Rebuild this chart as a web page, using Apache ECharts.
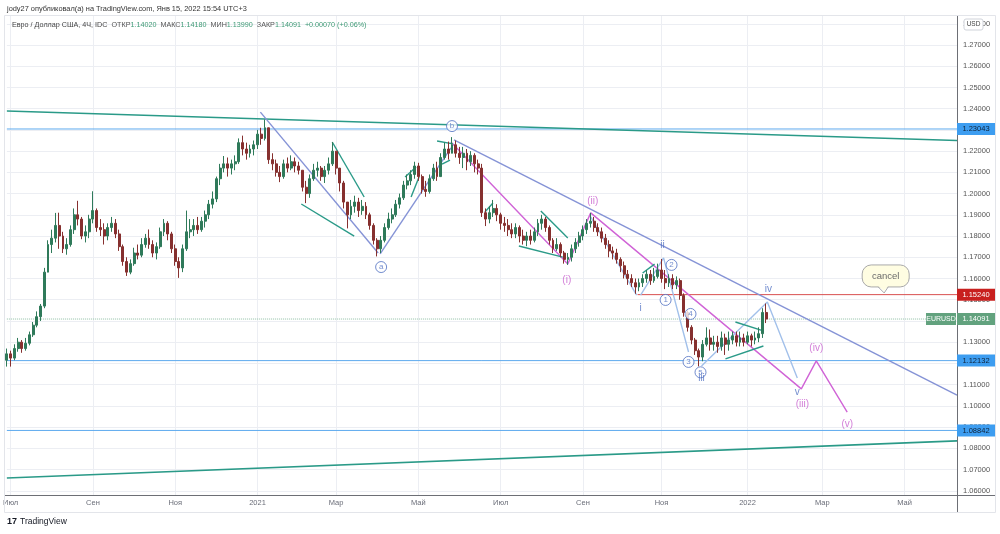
<!DOCTYPE html>
<html><head><meta charset="utf-8">
<script src="https://cdn.jsdelivr.net/npm/echarts@6/dist/echarts.min.js"></script>
<style>html,body{margin:0;padding:0;background:#fff;}#c{width:1000px;height:534px;}</style>
</head><body><div id="c"></div>
<script>
// ---------------- DATA ----------------
const firstOpen = 1.1215;
const closes = [
1.1245,1.1225,1.1270,1.1300,1.1270,1.1295,1.1335,1.1380,1.1420,1.1470,
1.1630,1.1760,1.1790,1.1850,1.1800,1.1740,1.1760,1.1830,1.1900,1.1880,
1.1800,1.1820,1.1880,1.1920,1.1840,1.1830,1.1800,1.1840,1.1860,1.1810,
1.1750,1.1680,1.1630,1.1670,1.1720,1.1710,1.1760,1.1790,1.1760,1.1720,
1.1750,1.1820,1.1860,1.1810,1.1740,1.1680,1.1650,1.1740,1.1820,1.1830,
1.1850,1.1830,1.1870,1.1900,1.1950,1.1975,1.2070,1.2120,1.2140,1.2120,
1.2140,1.2150,1.2240,1.2210,1.2190,1.2210,1.2230,1.2280,1.2260,1.2310,
1.2160,1.2140,1.2100,1.2080,1.2140,1.2120,1.2150,1.2130,1.2110,1.2030,
1.2000,1.2070,1.2110,1.2120,1.2080,1.2110,1.2140,1.2200,1.2120,1.2050,
1.1960,1.1900,1.1940,1.1960,1.1920,1.1940,1.1900,1.1850,1.1780,1.1740,
1.1780,1.1840,1.1880,1.1900,1.1950,1.1980,1.2040,1.2060,1.2090,1.2130,
1.2080,1.2020,1.2010,1.2070,1.2120,1.2080,1.2170,1.2210,1.2190,1.2230,
1.2190,1.2170,1.2190,1.2150,1.2180,1.2140,1.2120,1.1910,1.1880,1.1910,
1.1930,1.1900,1.1860,1.1850,1.1830,1.1810,1.1840,1.1800,1.1780,1.1800,
1.1780,1.1820,1.1860,1.1880,1.1840,1.1780,1.1740,1.1760,1.1720,1.1690,
1.1700,1.1740,1.1770,1.1800,1.1830,1.1860,1.1870,1.1840,1.1820,1.1790,
1.1760,1.1730,1.1720,1.1690,1.1660,1.1620,1.1600,1.1580,1.1560,1.1580,
1.1600,1.1620,1.1590,1.1610,1.1640,1.1600,1.1580,1.1600,1.1570,1.1590,
1.1520,1.1440,1.1370,1.1310,1.1260,1.1230,1.1290,1.1320,1.1290,1.1300,
1.1280,1.1320,1.1290,1.1310,1.1330,1.1300,1.1320,1.1300,1.1330,1.1310,
1.1320,1.1340,1.1440,1.1409];
const highs = [
1.1270,1.1260,1.1290,1.1320,1.1310,1.1320,1.1350,1.1395,1.1445,1.1480,
1.1650,1.1780,1.1830,1.1909,1.1910,1.1820,1.1790,1.1850,1.1930,1.1966,
1.1890,1.1850,1.1900,1.2011,1.1930,1.1880,1.1860,1.1860,1.1890,1.1880,
1.1830,1.1760,1.1700,1.1690,1.1745,1.1760,1.1790,1.1810,1.1831,1.1780,
1.1770,1.1840,1.1880,1.1870,1.1820,1.1760,1.1700,1.1760,1.1920,1.1880,
1.1880,1.1890,1.1890,1.1920,1.1970,1.2010,1.2080,1.2140,1.2177,1.2170,
1.2160,1.2180,1.2260,1.2273,1.2240,1.2230,1.2250,1.2300,1.2310,1.2349,
1.2310,1.2190,1.2160,1.2130,1.2160,1.2170,1.2180,1.2170,1.2150,1.2110,
1.2060,1.2090,1.2140,1.2150,1.2130,1.2130,1.2170,1.2243,1.2200,1.2120,
1.2060,1.1960,1.1970,1.1990,1.1980,1.1970,1.1960,1.1910,1.1860,1.1790,
1.1800,1.1860,1.1910,1.1930,1.1970,1.2000,1.2060,1.2090,1.2110,1.2150,
1.2145,1.2090,1.2060,1.2090,1.2140,1.2150,1.2190,1.2240,1.2245,1.2266,
1.2250,1.2220,1.2220,1.2210,1.2200,1.2190,1.2160,1.2140,1.1930,1.1940,
1.1970,1.1950,1.1910,1.1890,1.1880,1.1860,1.1860,1.1850,1.1830,1.1820,
1.1830,1.1840,1.1880,1.1900,1.1890,1.1850,1.1790,1.1790,1.1770,1.1730,
1.1720,1.1760,1.1790,1.1820,1.1850,1.1880,1.1909,1.1890,1.1860,1.1840,
1.1810,1.1780,1.1750,1.1740,1.1700,1.1680,1.1640,1.1620,1.1600,1.1600,
1.1620,1.1640,1.1640,1.1650,1.1670,1.1692,1.1640,1.1620,1.1620,1.1610,
1.1600,1.1530,1.1450,1.1380,1.1320,1.1270,1.1310,1.1370,1.1360,1.1330,
1.1330,1.1350,1.1340,1.1350,1.1350,1.1350,1.1350,1.1340,1.1350,1.1340,
1.1350,1.1370,1.1460,1.1482];
const lows = [
1.1185,1.1185,1.1215,1.1255,1.1250,1.1260,1.1285,1.1325,1.1370,1.1400,
1.1460,1.1640,1.1720,1.1770,1.1740,1.1720,1.1712,1.1750,1.1810,1.1850,
1.1785,1.1770,1.1790,1.1860,1.1820,1.1800,1.1760,1.1780,1.1820,1.1790,
1.1730,1.1660,1.1612,1.1620,1.1660,1.1690,1.1700,1.1745,1.1740,1.1700,
1.1690,1.1740,1.1800,1.1780,1.1720,1.1660,1.1603,1.1630,1.1730,1.1790,
1.1800,1.1810,1.1820,1.1840,1.1880,1.1930,1.1960,1.2040,1.2100,1.2080,
1.2090,1.2110,1.2140,1.2180,1.2160,1.2170,1.2180,1.2210,1.2230,1.2250,
1.2140,1.2110,1.2080,1.2054,1.2070,1.2100,1.2110,1.2100,1.2090,1.2010,
1.1955,1.1980,1.2060,1.2080,1.2060,1.2050,1.2090,1.2130,1.2090,1.2010,
1.1930,1.1836,1.1880,1.1910,1.1890,1.1900,1.1880,1.1830,1.1760,1.1704,
1.1720,1.1770,1.1830,1.1860,1.1890,1.1930,1.1970,1.2020,1.2040,1.2070,
1.2060,1.2000,1.1985,1.2000,1.2060,1.2060,1.2080,1.2160,1.2160,1.2190,
1.2170,1.2140,1.2120,1.2110,1.2130,1.2100,1.2090,1.1890,1.1847,1.1860,
1.1890,1.1870,1.1830,1.1820,1.1800,1.1790,1.1790,1.1770,1.1760,1.1752,
1.1760,1.1770,1.1800,1.1830,1.1820,1.1760,1.1720,1.1730,1.1700,1.1670,
1.1664,1.1680,1.1720,1.1750,1.1780,1.1810,1.1840,1.1820,1.1800,1.1770,
1.1740,1.1700,1.1690,1.1670,1.1630,1.1600,1.1570,1.1560,1.1528,1.1540,
1.1560,1.1580,1.1570,1.1580,1.1600,1.1580,1.1550,1.1560,1.1550,1.1550,
1.1500,1.1420,1.1350,1.1290,1.1240,1.1186,1.1210,1.1280,1.1260,1.1260,
1.1250,1.1260,1.1240,1.1260,1.1290,1.1280,1.1280,1.1280,1.1290,1.1280,
1.1290,1.1300,1.1320,1.1390];

const priceTicks = [1.06,1.07,1.08,1.09,1.10,1.11,1.12,1.13,1.14,1.15,1.16,1.17,1.18,1.19,1.20,1.21,1.22,1.23,1.24,1.25,1.26,1.27,1.28];
const monthNames = ['Янв','Фев','Мар','Апр','Май','Июн','Июл','Авг','Сен','Окт','Ноя','Дек'];
const firstDay = '2020-06-26';  // first bar, each bar = 2 trading days
const barCount = 255;

// horizontal levels
const blueLevels = [1.23043, 1.12132, 1.08842];
const redLevel = 1.15240;
const redStartBar = 168.6;
const lastPrice = 1.14091;

// drawn lines: [barIndex, price]
const trendTop = [[0,1.2389],[254,1.2250]];
const trendBottom = [[0,1.0660],[254,1.0835]];
const waveA = [[67.77,1.2384],[99.25,1.1720]];
const waveAB = [[99.79,1.1716],[118.73,1.2215]];
const longDown = [[119.53,1.2253],[254,1.1051]];
const magentaPath = [[118.73,1.2243],[149.95,1.1668],[156.08,1.1909],[212.38,1.1080],[216.38,1.1212],[224.65,1.0971]];
const lightBlue1 = [[156.08,1.1890],[168.36,1.1522]];
const lightBlue2 = [[169.42,1.1522],[175.56,1.1697],[182.23,1.1254]];
const lightBlue3 = [[185.7,1.1188],[203.3,1.1489],[211.31,1.1131]];
const tealSegs = [
 [[78.71,1.1951],[92.85,1.1800]],
 [[86.98,1.2243],[95.52,1.1984]],
 [[106.46,1.2078],[109.39,1.2125]],
 [[108.06,1.1984],[110.19,1.2078]],
 [[115.0,1.2248],[119.26,1.2234]],
 [[116.33,1.2139],[118.46,1.2158]],
 [[127.8,1.1913],[129.94,1.1956]],
 [[142.74,1.1918],[149.95,1.1791]],
 [[136.87,1.1753],[148.61,1.1701]],
 [[169.96,1.1626],[173.16,1.1668]],
 [[194.77,1.1395],[202.24,1.1353]],
 [[192.10,1.1221],[202.24,1.1282]]
];
const magentaLabels = [[149.68,1.1593,'(i)'],[156.62,1.1965,'(ii)'],[212.65,1.1009,'(iii)'],[216.38,1.1273,'(iv)'],[224.65,1.0915,'(v)']];
const blueLabels = [[169.42,1.1461,'i'],[175.29,1.1758,'ii'],[185.7,1.1128,'iii'],[203.57,1.1551,'iv'],[211.31,1.1066,'v']];
const circledLabels = [[100.05,1.1654,'a'],[119.0,1.2318,'b'],[176.1,1.1499,'1'],[177.69,1.1664,'2'],[182.23,1.1207,'3'],[182.76,1.1433,'4'],[185.43,1.1158,'5']];
const cancelNote = [234.8, 1.1612, 'cancel'];

// ---------------- BUILD ----------------
const categories = [];
const labelText = {};
(function(){
  let d = new Date(firstDay + 'T00:00:00Z');
  let prevMonth = d.getUTCMonth();
  for (let i = 0; i < barCount; i++) {
    const days = [];
    while (days.length < 2) {
      const wd = d.getUTCDay();
      if (wd !== 0 && wd !== 6) days.push(new Date(d.getTime()));
      d.setUTCDate(d.getUTCDate() + 1);
    }
    categories.push(days[0].toISOString().slice(0,10));
    for (const dd of days) {
      const m = dd.getUTCMonth();
      if (m !== prevMonth) {
        prevMonth = m;
        if (m % 2 === 0) labelText[i] = (m === 0) ? String(dd.getUTCFullYear()) : monthNames[m];
      }
    }
  }
})();
const showCat = (i) => labelText[i] !== undefined;

const candleData = closes.map((c, i) => {
  const o = i === 0 ? firstOpen : closes[i-1];
  return [o, c, lows[i], highs[i]];
});

const FONT = 'Liberation Sans, Arial, sans-serif';
const C = {
  up: '#2f7a5a', down: '#86302f', teal: '#2a9a88', lav: '#8593d6', mag: '#d064d6',
  lblue: '#a2c0ea', hblue: '#5eaaee', red: '#d84f4f', green: '#62a27e', waveBlue: '#4f6fc2'
};

function seg(pts, color, width, type, z) {
  return { type: 'line', xAxisIndex: 1, yAxisIndex: 0, data: pts, symbol: 'none', showSymbol: false,
    silent: true, animation: false, lineStyle: { color: color, width: width, type: type || 'solid' }, z: z || 3 };
}

const series = [];
series.push({
  type: 'candlestick', xAxisIndex: 0, yAxisIndex: 0, data: candleData, barWidth: 2.4, animation: false,
  itemStyle: { color: C.up, color0: C.down, borderColor: C.up, borderColor0: C.down, borderWidth: 1 }, z: 4
});
blueLevels.forEach(v => series.push(seg([[0, v], [254, v]], C.hblue, 1, 'solid', 2)));
series.push(seg([[redStartBar, redLevel], [254, redLevel]], C.red, 1, 'solid', 2));
series.push(seg([[0, lastPrice], [254, lastPrice]], '#8fbfa4', 1, 'dotted', 2));
series.push(seg(trendTop, C.teal, 1.6));
series.push(seg(trendBottom, C.teal, 1.6));
series.push(seg(waveA, C.lav, 1.4));
series.push(seg(waveAB, C.lav, 1.4));
series.push(seg(longDown, C.lav, 1.4));
series.push(seg(magentaPath, C.mag, 1.4));
series.push(seg(lightBlue1, C.lblue, 1.4));
series.push(seg(lightBlue2, C.lblue, 1.4));
series.push(seg(lightBlue3, C.lblue, 1.4));
tealSegs.forEach(s => series.push(seg(s, C.teal, 1.4)));

series.push({
  type: 'scatter', xAxisIndex: 1, yAxisIndex: 0, symbolSize: 0, silent: true, animation: false, z: 6,
  data: magentaLabels.map(d => ({ value: [d[0], d[1]], name: d[2] })),
  label: { show: true, position: 'inside', formatter: p => p.name, color: '#c75ccd', fontSize: 10, fontFamily: FONT }
});
series.push({
  type: 'scatter', xAxisIndex: 1, yAxisIndex: 0, symbolSize: 0, silent: true, animation: false, z: 8,
  data: blueLabels.map(d => ({ value: [d[0], d[1]], name: d[2] })),
  label: { show: true, position: 'inside', formatter: p => p.name, color: C.waveBlue, fontSize: 10, fontFamily: FONT }
});
series.push({
  type: 'scatter', xAxisIndex: 1, yAxisIndex: 0, symbol: 'circle', symbolSize: 11, silent: true, animation: false, z: 7,
  itemStyle: { color: '#ffffff', borderColor: C.waveBlue, borderWidth: 1 },
  data: circledLabels.map(d => ({ value: [d[0], d[1]], name: d[2] })),
  label: { show: true, position: 'inside', formatter: p => p.name, color: C.waveBlue, fontSize: 8, fontFamily: FONT }
});

const chart = echarts.init(document.getElementById('c'), null, { renderer: 'canvas' });
chart.setOption({
  animation: false,
  backgroundColor: '#ffffff',
  grid: { left: 5, right: 43, top: 16, bottom: 39, containLabel: false },
  xAxis: [{
    type: 'category', data: categories, boundaryGap: false,
    axisLine: { show: false }, axisTick: { show: false },
    axisLabel: { interval: (i) => showCat(i), formatter: (v, i) => labelText[i] || '', color: '#6a6d78', fontSize: 7.5,
      fontFamily: FONT, margin: 4 },
    splitLine: { show: true, interval: (i) => showCat(i), lineStyle: { color: '#eceef3', width: 1 } }
  }, {
    type: 'value', min: 0, max: 254, show: false
  }],
  yAxis: [{
    type: 'value', position: 'right', min: 1.05801, max: 1.28366, scale: true,
    axisLine: { show: false },
    axisTick: { show: false, customValues: priceTicks },
    axisLabel: { customValues: priceTicks, formatter: v => v.toFixed(5), color: '#555', fontSize: 7.5, fontFamily: FONT, margin: 6 },
    splitLine: { show: true, lineStyle: { color: '#eceef3', width: 1 } }
  }],
  series: series
});

// ---------------- OVERLAY (axis price tags, header, frame) ----------------
const yPix = v => chart.convertToPixel({ yAxisIndex: 0 }, v);
const ptPix = (x, y) => chart.convertToPixel({ xAxisIndex: 1, yAxisIndex: 0 }, [x, y]);
const g = [];
function tag(v, bg, fg) {
  const y = yPix(v);
  g.push({ type: 'rect', z: 100, shape: { x: 957, y: y - 6, width: 38, height: 12 }, style: { fill: bg } });
  g.push({ type: 'text', z: 101, x: 976, y: y, style: { text: v.toFixed(5), fill: fg, font: '7.5px ' + FONT, align: 'center', verticalAlign: 'middle' } });
}
blueLevels.forEach(v => tag(v, '#3d9df0', '#0e2238'));
tag(redLevel, '#c8201f', '#ffffff');
tag(lastPrice, C.green, '#ffffff');
const ly = yPix(lastPrice);
g.push({ type: 'rect', z: 100, shape: { x: 926, y: ly - 6, width: 30, height: 12 }, style: { fill: C.green } });
g.push({ type: 'text', z: 101, x: 941, y: ly, style: { text: 'EURUSD', fill: '#ffffff', font: '7px ' + FONT, align: 'center', verticalAlign: 'middle' } });

// cancel callout
const cp = ptPix(cancelNote[0], cancelNote[1]);
g.push({ type: 'rect', z: 100, shape: { x: cp[0]-23, y: cp[1]-11, width: 47, height: 22, r: 9 }, style: { fill: '#fffde2', stroke: '#a9a9a9', lineWidth: 1 } });
g.push({ type: 'polygon', z: 101, shape: { points: [[cp[0]-7, cp[1]+10], [cp[0]+3, cp[1]+10], [cp[0]-1, cp[1]+15]] }, style: { fill: '#fffde2' } });
g.push({ type: 'polyline', z: 101, shape: { points: [[cp[0]-7, cp[1]+11], [cp[0]-1, cp[1]+17], [cp[0]+3, cp[1]+11]] }, style: { stroke: '#a9a9a9', lineWidth: 1, fill: null } });
g.push({ type: 'text', z: 102, x: cp[0]+0.5, y: cp[1], style: { text: cancelNote[2], fill: '#6a6a6a', font: '9.5px ' + FONT, align: 'center', verticalAlign: 'middle' } });

// frame & axes lines
g.push({ type: 'rect', z: 90, shape: { x: 4.5, y: 15.5, width: 991, height: 497 }, style: { fill: null, stroke: '#e3e5ea', lineWidth: 1 } });
g.push({ type: 'line', z: 91, shape: { x1: 957.5, y1: 16, x2: 957.5, y2: 512 }, style: { stroke: '#6d6f75', lineWidth: 1 } });
g.push({ type: 'line', z: 91, shape: { x1: 5, y1: 495.5, x2: 995, y2: 495.5 }, style: { stroke: '#6d6f75', lineWidth: 1 } });
// USD badge
g.push({ type: 'rect', z: 100, shape: { x: 964, y: 19, width: 19, height: 11, r: 2 }, style: { fill: '#ffffff', stroke: '#d0d3da', lineWidth: 1 } });
g.push({ type: 'text', z: 101, x: 973.5, y: 24.5, style: { text: 'USD', fill: '#444', font: '6.5px ' + FONT, align: 'center', verticalAlign: 'middle' } });
// header
g.push({ type: 'text', z: 100, x: 7, y: 9, style: { text: 'jody27 опубликовал(а) на TradingView.com, Янв 15, 2022 15:54 UTC+3', fill: '#333', font: '7.4px ' + FONT, verticalAlign: 'middle' } });
g.push({ type: 'text', z: 100, x: 12, y: 25, style: {
  text: '{t|Евро / Доллар США, 4Ч, IDC}  {l|ОТКР}{v|1.14020}  {l|МАКС}{v|1.14180}  {l|МИН}{v|1.13990}  {l|ЗАКР}{v|1.14091}  {v|+0.00070 (+0.06%)}',
  font: '7.2px ' + FONT, verticalAlign: 'middle',
  rich: { t: { fill: '#444', font: '7.2px ' + FONT }, l: { fill: '#555', font: '7.2px ' + FONT }, v: { fill: '#3f9a76', font: '7.2px ' + FONT } }
} });
// footer logo
g.push({ type: 'text', z: 100, x: 7, y: 522, style: { text: '17', fill: '#131722', font: 'bold 9px ' + FONT, verticalAlign: 'middle' } });
g.push({ type: 'text', z: 100, x: 20, y: 522, style: { text: 'TradingView', fill: '#131722', font: '8.5px ' + FONT, verticalAlign: 'middle' } });

chart.setOption({ graphic: g });
</script>
</body></html>
